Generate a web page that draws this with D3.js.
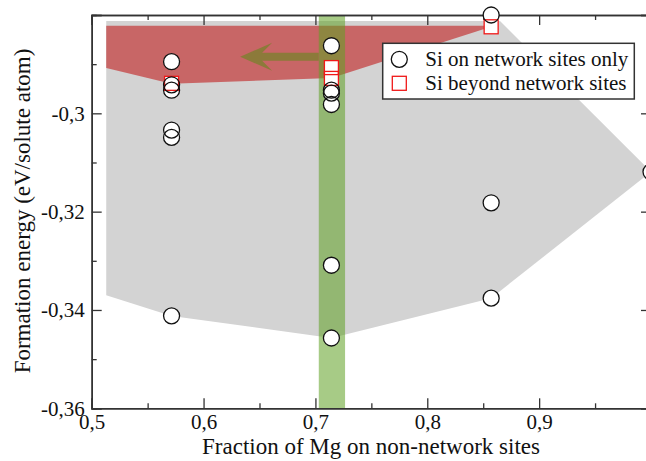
<!DOCTYPE html>
<html><head><meta charset="utf-8">
<script src="https://cdn.jsdelivr.net/npm/d3@7"></script>
<style>
html,body{margin:0;padding:0;background:#fff;overflow:hidden}
svg{display:block;font-family:"Liberation Serif","Times New Roman",serif}
</style></head><body>
<script>
// ---- data ----
const circleX = [0.5714,0.5714,0.5714,0.5714,0.5714,0.5714, 0.7143,0.7143,0.7143,0.7143,0.7143,0.7143, 0.8571,0.8571,0.8571, 1.0];
const circleY = [-0.2895,-0.2942,-0.2953,-0.3034,-0.3049,-0.3412, -0.28625,-0.2953,-0.2959,-0.2982,-0.3309,-0.3457, -0.2800,-0.3182,-0.3376, -0.3119];
const squareX = [0.5714, 0.7143, 0.7143, 0.8571];
const squareY = [-0.2939, -0.2907, -0.2929, -0.2824];
// shaded regions
const grayX = [0.513, 0.865, 1.0, 0.8571, 0.7143, 0.5714, 0.513];
const grayY = [-0.2812, -0.2812, -0.3119, -0.3376, -0.3457, -0.3412, -0.3370];
const redX = [0.513, 0.855, 0.8571, 0.7143, 0.5714, 0.513];
const redY = [-0.2822, -0.2822, -0.2824, -0.2928, -0.2940, -0.2908];
const bandX = [0.703, 0.7265];
const arrowX = [0.703, 0.6327];
const arrowY = -0.2885;
const xTicks = [0.5, 0.6, 0.7, 0.8, 0.9, 1.0];
const xTickLabels = ["0,5", "0,6", "0,7", "0,8", "0,9", ""];
const xMinor = [0.55, 0.65, 0.75, 0.85, 0.95];
const yTicks = [-0.36, -0.34, -0.32, -0.30, -0.28];
const yTickLabels = ["-0,36", "-0,34", "-0,32", "-0,3", ""];
const yMinor = [-0.35, -0.33, -0.31, -0.29];
const legendLabels = ["Si on network sites only", "Si beyond network sites"];
const xTitle = "Fraction of Mg on non-network sites";
const yTitle = "Formation energy (eV/solute atom)";

// ---- drawing ----
const W = 646, H = 461;
const svg = d3.select("body").append("svg").attr("width", W).attr("height", H);
const x = d3.scaleLinear().domain([0.5, 1.0]).range([91.7, 651]);
const y = d3.scaleLinear().domain([-0.36, -0.28]).range([408.3, 15]);

const line = d3.line().x(d => x(d[0])).y(d => y(d[1]));
svg.append("path").attr("d", line(d3.zip(grayX, grayY)) + "Z").attr("fill", "#d3d3d3");
svg.append("path").attr("d", line(d3.zip(redX, redY)) + "Z").attr("fill", "#c86666");

// green band
svg.append("rect")
  .attr("x", x(bandX[0])).attr("width", x(bandX[1]) - x(bandX[0]))
  .attr("y", y(-0.28)).attr("height", y(-0.36) - y(-0.28))
  .attr("fill", "rgb(95,160,35)").attr("fill-opacity", 0.55);

// arrow
{
  const x0 = x(arrowX[0]), x1 = x(arrowX[1]), yc = y(arrowY);
  const hw = 4, headL = 32, headH = 14, notch = 10;
  const p = [[x0, yc - hw], [x1 + headL - notch, yc - hw], [x1 + headL, yc - headH], [x1, yc],
             [x1 + headL, yc + headH], [x1 + headL - notch, yc + hw], [x0, yc + hw]];
  svg.append("path").attr("d", "M" + p.map(d => d.join(",")).join("L") + "Z").attr("fill", "rgb(140,122,58)");
}

// axes
const g = svg.append("g").attr("font-size", 21);
const axB = d3.axisBottom(x).tickValues(xTicks).tickFormat((d, i) => xTickLabels[i]).tickSize(-10).tickPadding(6);
const axBm = d3.axisBottom(x).tickValues(xMinor).tickFormat("").tickSize(-5);
const axT = d3.axisTop(x).tickValues(xTicks).tickFormat("").tickSize(-10);
const axTm = d3.axisTop(x).tickValues(xMinor).tickFormat("").tickSize(-5);
const axL = d3.axisLeft(y).tickValues(yTicks).tickFormat((d, i) => yTickLabels[i]).tickSize(-10).tickPadding(7);
const axLm = d3.axisLeft(y).tickValues(yMinor).tickFormat("").tickSize(-5);
const axR = d3.axisRight(y).tickValues(yTicks).tickFormat("").tickSize(-10);
const axRm = d3.axisRight(y).tickValues(yMinor).tickFormat("").tickSize(-5);
function styleAx(sel) {
  sel.attr("font-family", null).attr("font-size", null);
  sel.selectAll("path.domain").attr("stroke", "#333").attr("stroke-width", 1.5);
  sel.selectAll(".tick line").attr("stroke", "#333").attr("stroke-width", 1.3);
  sel.selectAll(".tick text").attr("fill", "#111");
}
g.append("g").attr("transform", `translate(0,${y(-0.36)})`).call(axB).call(styleAx);
g.append("g").attr("transform", `translate(0,${y(-0.36)})`).call(axBm).call(styleAx);
g.append("g").attr("transform", `translate(0,${y(-0.28)})`).call(axT).call(styleAx);
g.append("g").attr("transform", `translate(0,${y(-0.28)})`).call(axTm).call(styleAx);
g.append("g").attr("transform", `translate(${x(0.5)},0)`).call(axL).call(styleAx);
g.append("g").attr("transform", `translate(${x(0.5)},0)`).call(axLm).call(styleAx);
g.append("g").attr("transform", `translate(${x(1.0)},0)`).call(axR).call(styleAx);
g.append("g").attr("transform", `translate(${x(1.0)},0)`).call(axRm).call(styleAx);

// markers
const circ = d3.zip(circleX, circleY), sq = d3.zip(squareX, squareY);
const R = 8, S = 14;
svg.append("g").selectAll("circle").data(circ).join("circle")
  .attr("cx", d => x(d[0])).attr("cy", d => y(d[1])).attr("r", R).attr("fill", "#fff");
svg.append("g").selectAll("rect").data(sq).join("rect")
  .attr("x", d => x(d[0]) - S / 2).attr("y", d => y(d[1]) - S / 2).attr("width", S).attr("height", S)
  .attr("fill", "#fff");
svg.append("g").selectAll("rect").data(sq).join("rect")
  .attr("x", d => x(d[0]) - S / 2).attr("y", d => y(d[1]) - S / 2).attr("width", S).attr("height", S)
  .attr("fill", "none").attr("stroke", "#f01818").attr("stroke-width", 1.3);
svg.append("g").selectAll("circle").data(circ).join("circle")
  .attr("cx", d => x(d[0])).attr("cy", d => y(d[1])).attr("r", R)
  .attr("fill", "none").attr("stroke", "#111").attr("stroke-width", 1.3);

// legend
const lg = svg.append("g");
lg.append("rect").attr("x", 382.7).attr("y", 43.3).attr("width", 251.6).attr("height", 55.7)
  .attr("fill", "#fff").attr("stroke", "#333").attr("stroke-width", 1.5);
lg.append("circle").attr("cx", 399.3).attr("cy", 59.3).attr("r", R).attr("fill", "#fff").attr("stroke", "#111").attr("stroke-width", 1.3);
lg.append("rect").attr("x", 399.3 - S / 2).attr("y", 83.3 - S / 2).attr("width", S).attr("height", S)
  .attr("fill", "#fff").attr("stroke", "#f01818").attr("stroke-width", 1.3);
lg.selectAll("text").data(legendLabels).join("text")
  .attr("x", 425.3).attr("y", (d, i) => 66 + i * 24).attr("font-size", 21).attr("fill", "#111").text(d => d);

// titles
svg.append("text").attr("x", 371).attr("y", 454).attr("text-anchor", "middle").attr("font-size", 23).attr("fill", "#111").text(xTitle);
svg.append("text").attr("transform", "translate(30,211) rotate(-90)").attr("text-anchor", "middle").attr("font-size", 23).attr("fill", "#111").text(yTitle);
</script>
</body></html>
